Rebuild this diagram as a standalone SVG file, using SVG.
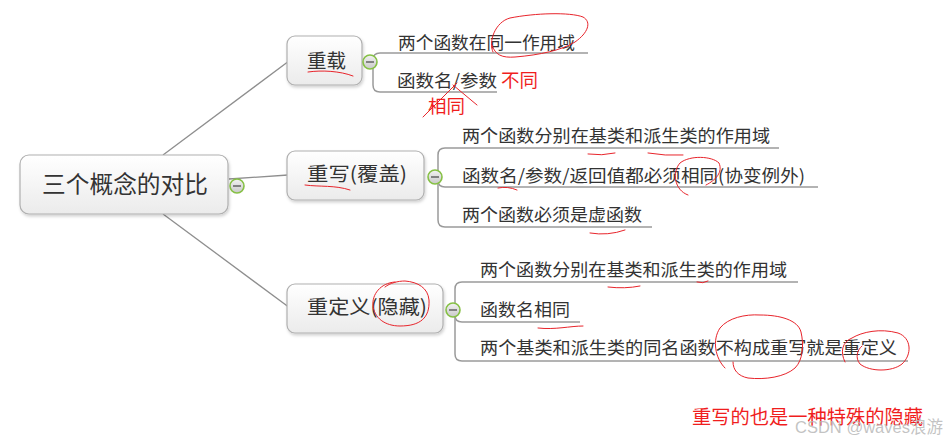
<svg xmlns="http://www.w3.org/2000/svg" width="947" height="442" viewBox="0 0 947 442">
<defs>
<linearGradient id="nodeFill" x1="0" y1="0" x2="0" y2="1">
<stop offset="0" stop-color="#ffffff"/>
<stop offset="1" stop-color="#ebebeb"/>
</linearGradient>
<linearGradient id="knobFill" x1="0" y1="0" x2="0" y2="1">
<stop offset="0" stop-color="#f2f2f2"/>
<stop offset="1" stop-color="#c9c9c9"/>
</linearGradient>
<filter id="shadow" x="-10%" y="-10%" width="130%" height="140%">
<feDropShadow dx="1" dy="2" stdDeviation="1.5" flood-color="#000" flood-opacity="0.18"/>
</filter>
</defs>
<style>
.box{fill:url(#nodeFill);stroke:#b0b0b0;stroke-width:1.2;filter:url(#shadow)}
.t{font-family:"Noto Sans CJK SC","Noto Sans",sans-serif;fill:#333}
.sub{font-size:17.5px}
.ntxt{font-size:19.5px}
.edge{fill:none;stroke:#8e8e8e;stroke-width:1.3}
.br{fill:none;stroke:#9a9a9a;stroke-width:1.5}
.knob circle{fill:url(#knobFill);stroke:#86c045;stroke-width:1.6}
.knob line{stroke:#6a6a6a;stroke-width:1.6}
.red{fill:none;stroke:#e8242b;stroke-width:1;stroke-linecap:round}
.rt{font-family:"Noto Sans CJK SC","Noto Sans",sans-serif;fill:#f01e1e}
</style>
<rect width="947" height="442" fill="#ffffff"/>

<g id="connectors">
<path class="edge" d="M163,155 L289,61"/>
<path class="edge" d="M229,179 L288,175"/>
<path class="edge" d="M163,214 L290,308"/>
<path class="br" d="M588,53 H380 Q373,53 373,60 V85 Q373,92 380,92 H497"/>
<path class="br" d="M779,148 H445 Q438,148 438,155 V220 Q438,227 445,227 H652"/>
<path class="br" d="M438,180 Q438,187 445,187 H818"/>
<path class="br" d="M798,282 H462 Q455,282 455,289 V354 Q455,361 462,361 H908"/>
<path class="br" d="M455,315 Q455,322 462,322 H580"/>
</g>

<g id="root">
<rect class="box" x="20" y="155" width="208" height="59" rx="9"/>
<text class="t" x="42" y="193" font-size="23.5" textLength="166" lengthAdjust="spacingAndGlyphs">三个概念的对比</text>
</g>
<g id="root-knob" class="knob"><circle cx="237" cy="186" r="7"/><line x1="233" y1="186" x2="241" y2="186"/></g>

<g id="n-overload">
<rect class="box" x="287" y="36" width="75" height="49" rx="8"/>
<text class="t ntxt" x="307" y="68" textLength="39" lengthAdjust="spacingAndGlyphs">重载</text>
</g>
<g id="k-overload" class="knob"><circle cx="370" cy="62" r="7"/><line x1="366" y1="62" x2="374" y2="62"/></g>

<g id="n-override">
<rect class="box" x="287" y="151" width="137" height="49" rx="8"/>
<text class="t ntxt" x="307" y="181" textLength="100" lengthAdjust="spacingAndGlyphs">重写(覆盖)</text>
</g>
<g id="k-override" class="knob"><circle cx="435" cy="177" r="7"/><line x1="431" y1="177" x2="439" y2="177"/></g>

<g id="n-redefine">
<rect class="box" x="287" y="284" width="156" height="49" rx="8"/>
<text class="t ntxt" x="307" y="314" textLength="120" lengthAdjust="spacingAndGlyphs">重定义(隐藏)</text>
</g>
<g id="k-redefine" class="knob"><circle cx="453" cy="310" r="7"/><line x1="449" y1="310" x2="457" y2="310"/></g>

<g id="overload-1"><text class="t sub" x="398" y="49" textLength="177" lengthAdjust="spacingAndGlyphs">两个函数在同一作用域</text></g>
<g id="overload-2"><text class="t sub" x="397" y="87" textLength="100" lengthAdjust="spacingAndGlyphs">函数名/参数</text></g>

<g id="override-1"><text class="t sub" x="462" y="142" textLength="308" lengthAdjust="spacingAndGlyphs">两个函数分别在基类和派生类的作用域</text></g>
<g id="override-2"><text class="t sub" x="462" y="182" textLength="343" lengthAdjust="spacingAndGlyphs">函数名/参数/返回值都必须相同(协变例外)</text></g>
<g id="override-3"><text class="t sub" x="462" y="221" textLength="180" lengthAdjust="spacingAndGlyphs">两个函数必须是虚函数</text></g>

<g id="redefine-1"><text class="t sub" x="480" y="276" textLength="307" lengthAdjust="spacingAndGlyphs">两个函数分别在基类和派生类的作用域</text></g>
<g id="redefine-2"><text class="t sub" x="480" y="316" textLength="90" lengthAdjust="spacingAndGlyphs">函数名相同</text></g>
<g id="redefine-3"><text class="t sub" x="480" y="354" textLength="417" lengthAdjust="spacingAndGlyphs">两个基类和派生类的同名函数不构成重写就是重定义</text></g>

<g id="annotations">
<path class="red" d="M493,52 C488,42 495,22 510,18 C535,13 570,12 583,17 C592,22 588,33 575,42 C562,50 540,55 515,57 C502,58 495,55 492,45"/>
<path class="red" d="M308,72 C322,70 340,71 353,76"/>
<path class="red" d="M423,117 L457,83"/>
<path class="red" d="M453,85 L477,105"/>
<text class="rt" x="501" y="87" font-size="18.5" textLength="37" lengthAdjust="spacingAndGlyphs">不同</text>
<text class="rt" x="428" y="113" font-size="18.5" textLength="37" lengthAdjust="spacingAndGlyphs">相同</text>
<path class="red" d="M305,185 C320,187 335,185 350,190"/>
<path class="red" d="M498,188 Q508,186 517,190"/>
<path class="red" d="M588,154 Q602,156 615,153"/>
<path class="red" d="M648,153 Q665,156 683,155"/>
<path class="red" d="M688,195 C674,190 672,172 680,163 C690,155 712,156 719,163 C723,172 716,180 706,185"/>
<path class="red" d="M590,233 Q608,236 625,230"/>
<path class="red" d="M395,282 C380,283 372,295 373,305 C374,318 385,326 400,326 C420,326 430,318 429,300 C428,288 418,282 405,281 C398,281 390,283 385,287"/>
<path class="red" d="M608,287 Q625,289 640,286"/>
<path class="red" d="M697,282 Q703,284 708,281"/>
<path class="red" d="M538,328 C555,330 570,326 583,326"/>
<path class="red" d="M725,368 C715,358 712,340 720,328 C728,318 745,314 760,315 C780,315 798,320 801,332 C804,345 803,360 795,368 C785,377 765,380 748,378 C738,376 733,370 733,362"/>
<path class="red" d="M845,362 C840,352 842,342 852,338 C862,332 880,328 898,333 C912,338 912,355 902,364 C892,372 870,372 860,364 C855,358 857,350 862,346"/>
<text class="rt" x="692" y="424" font-size="19.5" textLength="231" lengthAdjust="spacingAndGlyphs">重写的也是一种特殊的隐藏</text>
</g>

<g id="watermark">
<text x="795" y="433" font-family="'Liberation Sans','Noto Sans CJK SC',sans-serif" font-size="17" fill="#b8b8b8" fill-opacity="0.85" textLength="148" lengthAdjust="spacingAndGlyphs">CSDN @waves浪游</text>
</g>
</svg>
